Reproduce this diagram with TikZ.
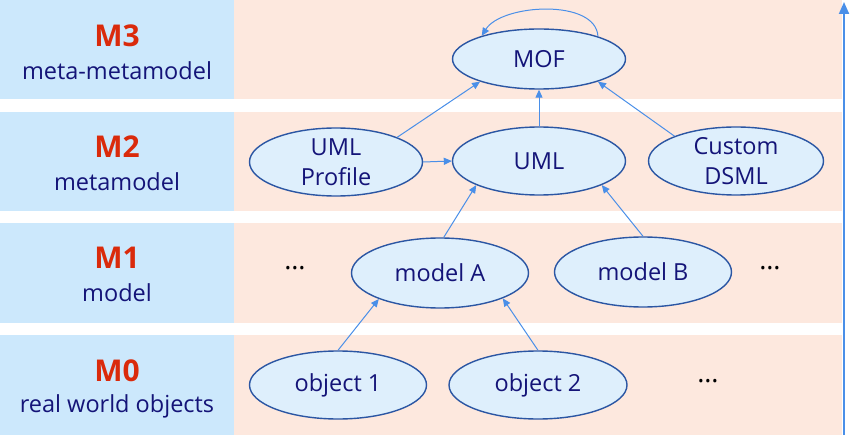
\documentclass[tikz,border=0pt]{standalone}
\usepackage{fontspec}
\setmainfont{Open Sans}
\usetikzlibrary{arrows.meta,shapes.geometric}
\definecolor{Side}{HTML}{CCE8FC}
\definecolor{Peach}{HTML}{FDE8DE}
\definecolor{Fill}{HTML}{DEEFFC}
\definecolor{Rim}{HTML}{2B56A3}
\definecolor{Ink}{HTML}{141478}
\definecolor{Red}{HTML}{DA2A0B}
\definecolor{Link}{HTML}{4A8FE8}

\begin{document}
\begin{tikzpicture}[x=1pt,y=-1pt,
      lvl/.style={text=Red,font=\fontsize{30}{33}\selectfont\bfseries},
      lvlname/.style={text=Ink,font=\fontsize{23.5}{26}\selectfont},
      elem/.style={ellipse,draw=Rim,line width=1.4pt,fill=Fill,text=Ink,
        minimum width=173pt,minimum height=68pt,inner sep=0pt,align=center,
        font=\fontsize{23.5}{30}\selectfont},
      more/.style={font=\fontsize{27}{30}\selectfont},
      arr/.style={Link,line width=1pt,-{Triangle[length=8pt,width=7pt]}}
    ]
      \useasboundingbox (0,0) rectangle (850,435);
      % layer bands
      \foreach \top/\bot in {0/99,112/211,223/323,335/435}{
        \fill[Side] (0,\top) rectangle (234,\bot);
        \fill[Peach] (234,\top) rectangle (842,\bot);
      }
      % level labels
      \node[lvl] (m3) at (117,36) {M3};
      \node[lvlname] (m3n) at (117,71) {meta-metamodel};
      \node[lvl] (m2) at (117,147) {M2};
      \node[lvlname] (m2n) at (117,182) {metamodel};
      \node[lvl] (m1) at (117,258) {M1};
      \node[lvlname] (m1n) at (117,293) {model};
      \node[lvl] (m0) at (117,371) {M0};
      \node[lvlname] (m0n) at (117,406) {real world objects};
      % elements
      \node[elem,minimum height=60pt] (mof) at (539,59) {MOF};
      \node[elem] (prof) at (336,162) {UML\\Profile};
      \node[elem] (uml) at (539,161) {UML};
      \node[elem,minimum width=175pt] (dsml) at (736,161) {Custom\\DSML};
      \node[elem,minimum width=177pt,minimum height=70pt] (ma) at (440,273) {model A};
      \node[elem,minimum width=177pt,minimum height=70pt] (mb) at (643,272) {model B};
      \node[elem,minimum width=177pt] (o1) at (338,385) {object 1};
      \node[elem,minimum width=178pt] (o2) at (538,385) {object 2};
      \node[more] (d1) at (295,268) {\ldots};
      \node[more] (d2) at (770,268) {\ldots};
      \node[more] (d3) at (708,381) {\ldots};
      % conformance links
      \draw[arr] (mof.21) .. controls +(-2,-38) and +(20,-32) .. (mof.158);
      \draw[arr] (prof.22) -- (mof.201);
      \draw[arr] (uml.north) -- (mof.south);
      \draw[arr] (dsml.158) -- (mof.339);
      \draw[arr] (prof.east) -- (uml.west);
      \draw[arr] (ma.84) -- (uml.201);
      \draw[arr] (mb.north) -- (uml.339);
      \draw[arr] (o1.north) -- (ma.203);
      \draw[arr] (o2.north) -- (ma.338);
      % abstraction axis
      \coordinate (ax0) at (844,435);
      \coordinate (ax1) at (844,2);
      \draw[Link,line width=2pt,-{Triangle[length=12pt,width=10pt]}] (ax0) -- (ax1);
    \end{tikzpicture}
\end{document}
